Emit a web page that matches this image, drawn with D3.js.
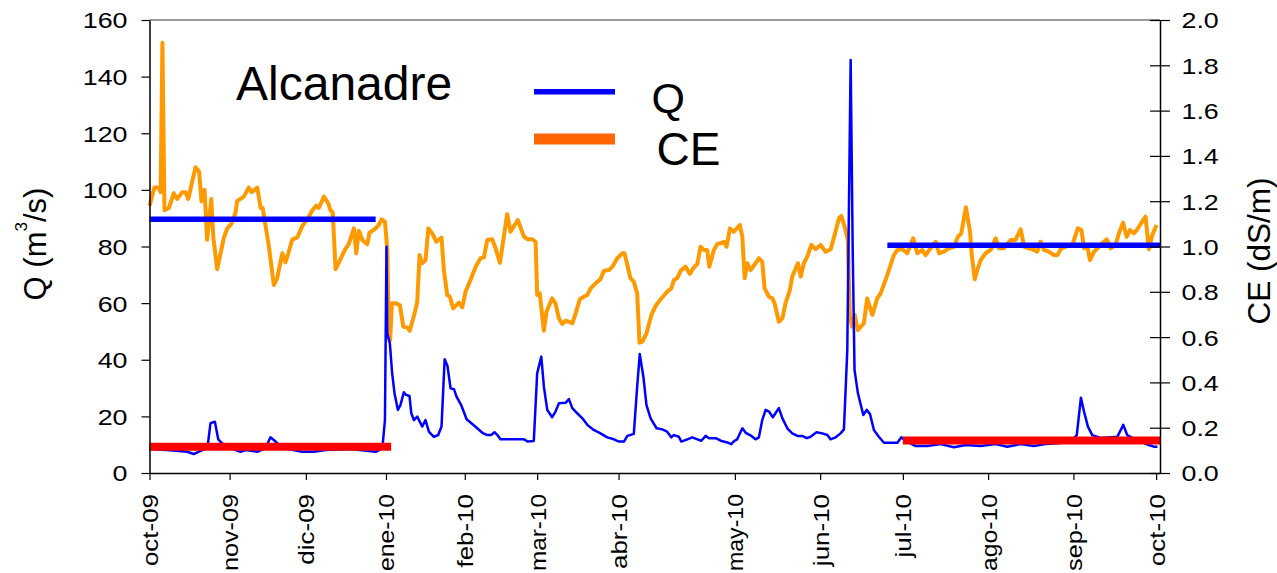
<!DOCTYPE html>
<html><head><meta charset="utf-8">
<script src="https://cdn.jsdelivr.net/npm/d3@7"></script>
<style>
body{margin:0;background:#fff}
svg{display:block}
text{font-family:"Liberation Sans", Arial, Helvetica, sans-serif; fill:#000}
</style>
</head><body>
<svg id="chart" width="1277" height="573"></svg>
<script>
// ---------------- DATA ----------------
const monthLabels = ["oct-09","nov-09","dic-09","ene-10","feb-10","mar-10","abr-10","may-10","jun-10","jul-10","ago-10","sep-10","oct-10"];
const monthTicks  = [0, 31, 60.5, 91.5, 122, 150, 181.5, 226.5, 259.5, 291.5, 324.5, 357.5, 389.5];
const qTicks  = [0, 20, 40, 60, 80, 100, 120, 140, 160];
const ceTicks = [0, 0.2, 0.4, 0.6, 0.8, 1.0, 1.2, 1.4, 1.6, 1.8, 2.0];

// Conductividad eléctrica CE (dS/m): [day index, value]
const cePoints = [[0,1.18],[1.9,1.26],[3.6,1.26],[4.3,1.24],[5.0,1.90],[5.8,1.16],[7.5,1.17],[9.4,1.235],[10.7,1.21],[12.7,1.24],[13.9,1.24],[15.0,1.21],[17.8,1.35],[19.2,1.33],[20.1,1.20],[21.3,1.25],[22.3,1.03],[23.9,1.21],[24.7,1.04],[26.2,0.90],[28.8,1.04],[30.1,1.08],[31.7,1.10],[33.3,1.15],[33.9,1.20],[36.5,1.22],[38.4,1.26],[39.5,1.24],[41.7,1.26],[43.0,1.17],[43.8,1.17],[46.2,1.00],[48.1,0.83],[49.4,0.86],[51.4,0.97],[52.6,0.93],[53.7,0.97],[55.2,1.03],[57.2,1.04],[59.1,1.09],[61.6,1.13],[63.0,1.16],[64.5,1.18],[65.5,1.17],[67.5,1.22],[69.2,1.19],[70.0,1.16],[70.9,1.15],[72.0,0.90],[73.3,0.93],[75.6,0.985],[77.1,1.01],[79.1,1.08],[80.0,0.97],[81.0,1.07],[82.3,1.03],[84.3,1.01],[85.1,1.06],[87.5,1.08],[88.7,1.095],[89.8,1.12],[91.1,1.11],[92.0,0.99],[92.6,0.60],[93.1,0.587],[93.8,0.75],[95.2,0.75],[96.9,0.74],[98.2,0.646],[99.7,0.643],[100.7,0.628],[102.6,0.705],[103.6,0.756],[104.5,0.962],[105.5,0.926],[106.8,0.94],[107.9,1.08],[109.4,1.058],[111.0,1.021],[113.0,1.039],[113.9,0.896],[115.2,0.786],[116.2,0.778],[117.5,0.727],[119.7,0.752],[121.0,0.732],[122.3,0.80],[124.2,0.852],[126.2,0.911],[128.1,0.948],[129.4,0.952],[130.7,1.029],[132.6,1.032],[133.9,0.992],[135.6,0.928],[137.1,1.043],[138.4,1.143],[139.7,1.065],[142.5,1.117],[144.9,1.043],[146.4,1.032],[148.1,1.032],[149.4,1.021],[150.0,0.786],[151.0,0.793],[152.6,0.628],[153.6,0.712],[155.8,0.771],[157.1,0.749],[158.4,0.683],[159.7,0.658],[161.0,0.672],[162.3,0.668],[163.6,0.661],[164.9,0.705],[166.5,0.767],[168.1,0.778],[169.4,0.786],[170.7,0.815],[173.3,0.845],[174.5,0.855],[175.8,0.893],[177.8,0.896],[179.1,0.911],[181.0,0.948],[182.9,0.970],[183.8,0.970],[184.9,0.918],[186.1,0.860],[187.4,0.845],[188.7,0.793],[189.6,0.575],[190.7,0.580],[192.3,0.617],[194.2,0.698],[195.8,0.737],[197.8,0.767],[200.3,0.800],[201.9,0.815],[202.9,0.852],[204.2,0.860],[205.5,0.893],[207.4,0.911],[209.1,0.879],[210.4,0.904],[212.0,0.923],[213.2,0.999],[214.5,0.985],[215.8,0.985],[216.6,0.911],[218.4,0.985],[219.7,1.011],[221.0,1.014],[222.3,1.021],[223.3,0.999],[224.6,1.080],[226.1,1.065],[228.4,1.095],[229.4,1.043],[230.3,0.860],[231.3,0.926],[232.6,0.896],[234.5,0.926],[235.8,0.948],[237.1,0.933],[238.0,0.815],[239.7,0.778],[241.0,0.771],[241.9,0.749],[243.5,0.668],[244.9,0.683],[246.1,0.749],[247.8,0.808],[248.7,0.867],[250.9,0.926],[252.0,0.867],[253.2,0.926],[254.5,0.955],[256.1,1.007],[257.7,0.988],[259.7,1.007],[261.6,0.977],[263.6,0.988],[265.4,1.064],[266.8,1.125],[267.7,1.135],[269.0,1.087],[270.2,1.029],[271.0,0.690],[271.9,0.646],[272.9,0.698],[274.1,0.631],[276.4,0.661],[277.7,0.771],[279.7,0.698],[281.6,0.771],[282.9,0.793],[284.8,0.852],[286.1,0.896],[288.0,0.962],[289.4,0.985],[291.3,0.988],[293.2,0.970],[295.5,1.036],[297.1,0.970],[299.0,0.985],[300.3,0.962],[302.2,0.992],[304.2,1.021],[305.5,0.970],[307.4,0.977],[309.3,0.992],[311.3,0.999],[312.8,1.043],[314.1,1.058],[315.9,1.173],[317.5,1.065],[318.1,0.970],[319.3,0.855],[320.3,0.896],[321.6,0.940],[323.5,0.970],[325.5,0.985],[327.4,1.036],[328.7,0.992],[330.6,0.992],[333.2,1.029],[335.1,1.029],[337.1,1.076],[338.4,0.999],[340.3,0.992],[342.2,0.985],[343.5,0.977],[344.8,1.021],[346.1,0.985],[348.0,0.977],[350.0,0.962],[351.3,0.962],[352.8,0.992],[355.2,1.002],[357.1,1.007],[359.2,1.080],[360.6,1.073],[361.6,0.992],[362.9,0.999],[363.9,0.940],[365.5,0.977],[367.4,0.999],[368.7,1.014],[370.4,1.032],[371.9,0.992],[373.8,1.007],[375.1,1.058],[376.7,1.105],[378.1,1.043],[379.4,1.073],[380.9,1.058],[382.2,1.076],[383.8,1.105],[385.4,1.132],[386.7,0.988],[388.0,1.051],[389.7,1.095]];

// Caudal Q (m3/s): [day index, value]
const qPoints = [[0,8.5],[6.8,8.1],[14.6,7.5],[17.1,6.7],[20.4,8.1],[22.4,8.8],[23.6,17.6],[25.3,18.1],[26.6,11.9],[28.1,10.5],[31.3,8.8],[35.2,7.5],[37.2,8.1],[41.7,7.5],[44.9,8.8],[46.8,12.6],[48.8,11.1],[51.5,8.8],[59.1,7.5],[63.6,7.5],[68.1,8.1],[77.8,8.5],[87.5,7.5],[90.1,8.7],[91.1,18.7],[91.7,79.9],[92.0,49.3],[93.0,45.8],[93.9,35.2],[94.8,28.2],[96.1,22.3],[97.1,24.0],[98.4,28.5],[99.3,27.6],[100.6,27.2],[101.3,21.1],[102.3,18.7],[103.6,19.9],[105.5,16.4],[106.8,18.7],[108.1,14.6],[110.0,12.8],[111.7,13.4],[113.0,16.4],[114.2,40.2],[115.3,37.8],[116.5,29.9],[117.8,29.6],[118.8,27.0],[120.6,24.0],[122.7,19.0],[124.9,17.3],[126.8,15.8],[128.8,14.2],[130.7,13.4],[132.2,13.4],[133.5,14.4],[134.6,13.4],[135.8,11.9],[144.9,11.9],[146.4,11.1],[148.7,11.3],[150.0,35.2],[151.6,41.1],[152.6,30.5],[153.9,22.3],[155.8,19.7],[157.1,21.7],[158.4,24.6],[161.0,24.8],[162.3,26.1],[163.6,22.9],[165.5,21.1],[167.5,19.3],[169.4,17.0],[171.9,15.2],[174.5,14.0],[177.1,12.6],[179.7,11.9],[181.6,11.1],[183.6,11.1],[184.9,13.1],[187.4,13.8],[188.7,30.5],[189.7,42.0],[191.1,34.0],[192.3,24.0],[193.9,19.3],[196.2,15.8],[198.4,15.4],[200.3,14.6],[201.9,12.6],[202.9,13.4],[204.8,12.8],[205.8,11.1],[208.1,11.9],[210.0,12.6],[212.0,11.9],[213.5,11.4],[215.2,13.1],[216.5,12.3],[219.1,12.3],[221.0,11.4],[223.6,10.8],[225.1,10.2],[226.4,11.4],[227.4,11.9],[229.4,15.8],[230.7,14.2],[232.9,13.1],[234.5,11.9],[235.8,12.6],[237.1,18.7],[238.4,22.3],[239.7,21.7],[241.2,19.7],[243.5,22.9],[244.9,19.3],[246.8,15.8],[248.7,14.0],[250.7,13.1],[252.6,13.1],[254.3,12.3],[255.8,12.8],[258.1,14.4],[260.3,14.0],[262.3,13.4],[263.5,11.9],[265.5,12.6],[267.4,14.0],[268.7,15.4],[270.0,43.4],[271.3,145.9],[272.1,78.8],[272.8,36.4],[274.1,28.2],[276.2,20.5],[277.5,22.3],[278.8,20.8],[280.3,15.2],[282.2,12.8],[284.2,10.7],[289.4,10.7],[290.9,12.6],[292.6,11.3],[296.5,9.5],[301.0,9.5],[306.1,10.2],[311.3,9.1],[315.8,9.9],[321.6,9.5],[327.4,10.2],[331.9,9.3],[337.1,10.2],[342.2,9.5],[346.7,10.2],[351.3,10.5],[356.4,11.0],[358.8,13.4],[360.4,26.6],[361.6,21.7],[363.1,16.4],[364.8,13.4],[368.0,12.4],[374.5,12.8],[376.8,17.0],[378.3,13.4],[381.6,11.7],[386.7,9.9],[388.6,9.3],[390,9.3]];

// Reference levels (period means)
const ceRefStart = [0, 285.5];
const ceRefEnd   = [87.5, 391];
const ceRefValue = [1.12, 1.006];
const qRefStart  = [0, 291.5];
const qRefEnd    = [93.5, 391];
const qRefValue  = [9.3, 11.5];

const legendLabels = ["Q", "CE"];
const title = "Alcanadre";

// ---------------- DRAW ----------------
const svg = d3.select("#chart");
const x   = d3.scaleLinear().domain([0, 391]).range([149.5, 1160]);
const yQ  = d3.scaleLinear().domain([0, 160]).range([473, 20]);
const yCE = d3.scaleLinear().domain([0, 2]).range([473, 20]);
const SX = 1.22;      // horizontal stretch of axis tick fonts
const MAXLAB = 77;    // max length of rotated month labels

// frame top line
svg.append("line").attr("x1", x(0)).attr("x2", x(391)).attr("y1", yQ(160)).attr("y2", yQ(160))
  .attr("stroke", "#333").attr("stroke-width", 1.2);

// CE line
svg.append("path").datum(cePoints)
  .attr("fill", "none").attr("stroke", "#ff9900").attr("stroke-width", 4)
  .attr("stroke-linejoin", "round")
  .attr("d", d3.line().x(d => x(d[0])).y(d => yCE(d[1])));

// Q line
svg.append("path").datum(qPoints)
  .attr("fill", "none").attr("stroke", "#0000ff").attr("stroke-width", 2.5)
  .attr("stroke-linejoin", "round")
  .attr("d", d3.line().x(d => x(d[0])).y(d => yQ(d[1])));

// reference segments
svg.selectAll(".ceRef").data(ceRefValue).enter().append("line")
  .attr("x1", (d, i) => x(ceRefStart[i])).attr("x2", (d, i) => x(ceRefEnd[i]))
  .attr("y1", d => yCE(d)).attr("y2", d => yCE(d))
  .attr("stroke", "#0000ff").attr("stroke-width", 5.5);
svg.selectAll(".qRef").data(qRefValue).enter().append("line")
  .attr("x1", (d, i) => x(qRefStart[i])).attr("x2", (d, i) => x(qRefEnd[i]))
  .attr("y1", d => yQ(d)).attr("y2", d => yQ(d))
  .attr("stroke", "#ff0000").attr("stroke-width", 8);

// left axis
const gL = svg.append("g").attr("transform", `translate(${x(0)},0)`)
  .call(d3.axisLeft(yQ).tickValues(qTicks).tickSizeInner(8).tickSizeOuter(0).tickFormat(d3.format("d")));
gL.select(".domain").attr("stroke", "#000").attr("stroke-width", 1.5);
gL.selectAll(".tick line").attr("stroke", "#000").attr("stroke-width", 1.2);
gL.selectAll(".tick text").attr("font-size", 22).attr("font-family", null)
  .attr("x", -22 / SX).attr("dy", "0.36em").attr("transform", `scale(${SX},1)`);

// right axis
const gR = svg.append("g").attr("transform", `translate(${x(391)},0)`)
  .call(d3.axisRight(yCE).tickValues(ceTicks).tickSizeInner(10).tickSizeOuter(0).tickFormat(d3.format(".1f")));
gR.select(".domain").attr("stroke", "#000").attr("stroke-width", 1.5);
gR.selectAll(".tick line").attr("x1", -10).attr("x2", 10).attr("stroke", "#000").attr("stroke-width", 1.2);
gR.selectAll(".tick text").attr("font-size", 22).attr("font-family", null)
  .attr("x", 21.5 / SX).attr("dy", "0.36em").attr("transform", `scale(${SX},1)`);

// bottom axis
const gB = svg.append("g").attr("transform", `translate(0,${yQ(0)})`)
  .call(d3.axisBottom(x).tickValues(monthTicks).tickSizeInner(7).tickSizeOuter(0)
    .tickFormat((d, i) => monthLabels[i]));
gB.select(".domain").attr("stroke", "#000").attr("stroke-width", 1.5);
gB.selectAll(".tick line").attr("stroke", "#000").attr("stroke-width", 1.2);
gB.selectAll(".tick text").attr("font-size", 22).attr("font-family", null)
  .attr("x", 0).attr("y", 0).attr("dy", "0.36em").attr("text-anchor", "end")
  .each(function () {
    const w = this.getComputedTextLength();
    const s = Math.min(1.18, MAXLAB / w);
    d3.select(this).attr("transform", `translate(0,21) rotate(-90) scale(${s},1)`);
  });

// axis titles
const tL = svg.append("text").attr("transform", "translate(46,244) rotate(-90)")
  .attr("text-anchor", "middle").attr("font-size", 31);
tL.append("tspan").text("Q (m");
tL.append("tspan").attr("font-size", 17).attr("dy", -19).text("3");
tL.append("tspan").attr("dy", 19).text("/s)");

svg.append("text").attr("transform", "translate(1270,251) rotate(-90)")
  .attr("text-anchor", "middle").attr("font-size", 31.5).text("CE (dS/m)");

// title
svg.append("text").attr("x", 236).attr("y", 100).attr("font-size", 48).text(title);

// legend
const legColors = ["#0000ff", "#ff6600"];
const legWidths = [5.5, 11];
const legY = [91.7, 139];
const legTextPos = [[651.5, 113, 43], [656.5, 165, 46]];
legendLabels.forEach((lab, i) => {
  svg.append("line").attr("x1", 534).attr("x2", 615).attr("y1", legY[i]).attr("y2", legY[i])
    .attr("stroke", legColors[i]).attr("stroke-width", legWidths[i]);
  svg.append("text").attr("x", legTextPos[i][0]).attr("y", legTextPos[i][1])
    .attr("font-size", legTextPos[i][2]).text(lab);
});
</script>
</body></html>
